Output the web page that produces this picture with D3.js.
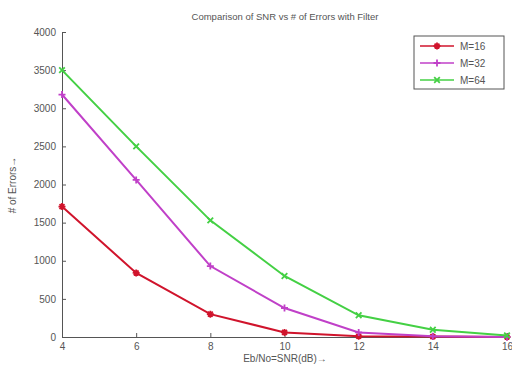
<!DOCTYPE html>
<html>
<head>
<meta charset="utf-8">
<script src="https://cdn.jsdelivr.net/npm/d3@7"></script>
<style>
  body { margin: 0; background: #fff; }
  text { font-family: "Liberation Sans", Arial, sans-serif; fill: #555; }
</style>
</head>
<body>
<div id="chart"></div>
<script>
(function () {
  const snr = [4, 6, 8, 10, 12, 14, 16];
  const errM16 = [1710, 840, 300, 60, 10, 5, 0];
  const errM32 = [3180, 2060, 930, 380, 60, 10, 0];
  const errM64 = [3500, 2500, 1530, 800, 285, 95, 20];
  const xTicks = [4, 6, 8, 10, 12, 14, 16];
  const yTicks = [0, 500, 1000, 1500, 2000, 2500, 3000, 3500, 4000];

  const series = [
    { name: "M=16", values: errM16, color: "#d0142c", marker: "star" },
    { name: "M=32", values: errM32, color: "#c040c8", marker: "plus" },
    { name: "M=64", values: errM64, color: "#44d044", marker: "cross" }
  ];

  const width = 512, height = 371;
  const margin = { left: 62, right: 5, top: 32, bottom: 34 };

  const svg = d3.select("#chart").append("svg")
    .attr("width", width)
    .attr("height", height);

  const x = d3.scaleLinear().domain([4, 16]).range([margin.left, width - margin.right]);
  const y = d3.scaleLinear().domain([0, 4000]).range([height - margin.bottom, margin.top]);

  // axes, ticks pointing inward like matlab
  const xAxis = svg.append("g")
    .attr("transform", `translate(0,${y(0)})`)
    .call(d3.axisBottom(x).tickValues(xTicks).tickFormat(d3.format("d"))
      .tickSizeInner(-4).tickSizeOuter(0).tickPadding(6));
  const yAxis = svg.append("g")
    .attr("transform", `translate(${x(4)},0)`)
    .call(d3.axisLeft(y).tickValues(yTicks).tickFormat(d3.format("d"))
      .tickSizeInner(-4).tickSizeOuter(0).tickPadding(6));
  [xAxis, yAxis].forEach(g => {
    g.select(".domain").attr("stroke", "#555");
    g.selectAll(".tick line").attr("stroke", "#555");
    g.selectAll(".tick text").style("font-size", "10px").attr("fill", "#555");
  });

  svg.append("text")
    .attr("x", 285).attr("y", 20)
    .attr("text-anchor", "middle")
    .style("font-size", "9.5px")
    .text("Comparison of SNR vs # of Errors with Filter");

  svg.append("text")
    .attr("x", 285).attr("y", 362)
    .attr("text-anchor", "middle")
    .style("font-size", "10px")
    .text("Eb/No=SNR(dB)\u2192");

  svg.append("text")
    .attr("transform", "translate(16,185) rotate(-90)")
    .attr("text-anchor", "middle")
    .style("font-size", "10px")
    .text("# of Errors\u2192");

  const line = d3.line()
    .x((d, i) => x(snr[i]))
    .y(d => y(d));

  function marker(g, type, color) {
    const s = 3.5;
    let p;
    if (type === "plus") p = `M${-s},0H${s}M0,${-s}V${s}`;
    else if (type === "cross") p = `M${-s*0.8},${-s*0.8}L${s*0.8},${s*0.8}M${-s*0.8},${s*0.8}L${s*0.8},${-s*0.8}`;
    else p = `M${-s},0H${s}M0,${-s}V${s}M${-s*0.7},${-s*0.7}L${s*0.7},${s*0.7}M${-s*0.7},${s*0.7}L${s*0.7},${-s*0.7}`;
    g.append("path").attr("d", p).attr("stroke", color).attr("stroke-width", 1.8).attr("fill", "none");
  }

  series.forEach(s => {
    svg.append("path")
      .attr("d", line(s.values))
      .attr("fill", "none")
      .attr("stroke", s.color)
      .attr("stroke-width", 2);
    s.values.forEach((v, i) => {
      const g = svg.append("g").attr("transform", `translate(${x(snr[i])},${y(v)})`);
      marker(g, s.marker, s.color);
    });
  });

  // legend
  const lg = svg.append("g").attr("transform", "translate(414,36)");
  lg.append("rect")
    .attr("width", 90).attr("height", 53)
    .attr("fill", "#fff").attr("stroke", "#555");
  series.forEach((s, i) => {
    const yy = 10 + i * 17;
    lg.append("line").attr("x1", 6).attr("x2", 40).attr("y1", yy).attr("y2", yy)
      .attr("stroke", s.color).attr("stroke-width", 1.5);
    marker(lg.append("g").attr("transform", `translate(23,${yy})`), s.marker, s.color);
    lg.append("text").attr("x", 46).attr("y", yy + 4)
      .style("font-size", "10px").text(s.name);
  });
})();
</script>
</body>
</html>
